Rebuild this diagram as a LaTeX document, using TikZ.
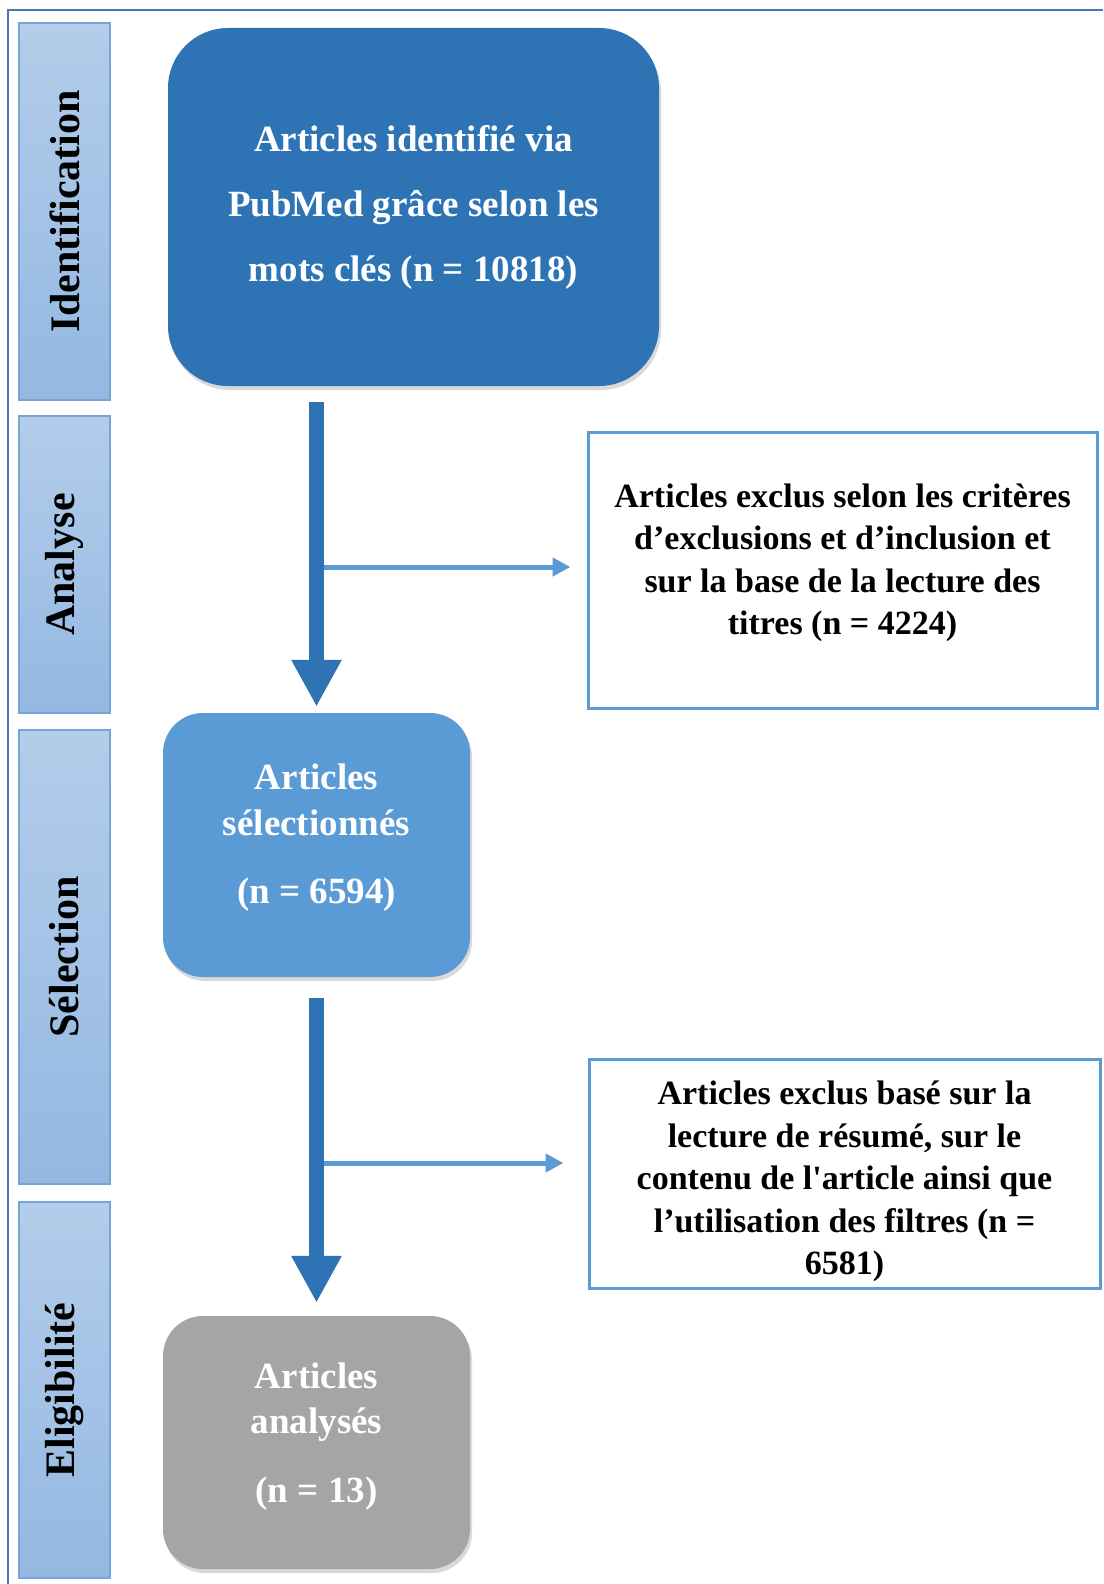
\documentclass[tikz,border=0pt]{standalone}
\usepackage{fontspec}
\setmainfont{Liberation Serif}
\newfontfamily\rawserif{Liberation Serif}[Ligatures=TeXOff]
\usetikzlibrary{arrows.meta,shadows,calc}
\definecolor{darkblue}{HTML}{2E74B5}
\definecolor{midblue}{HTML}{5B9BD5}
\definecolor{boxgray}{HTML}{A5A5A5}
\definecolor{sidetop}{HTML}{B3CDEA}
\definecolor{sidebot}{HTML}{94B8E2}
\definecolor{sideedge}{HTML}{76A5DA}
\definecolor{frameblue}{HTML}{4A78AE}
\tikzset{
  sidebox/.style={draw=sideedge, line width=1.5pt, top color=sidetop, bottom color=sidebot,
    minimum width=91pt, inner sep=0pt},
  sidelabel/.style={rotate=90, font=\fontsize{42}{48}\selectfont\bfseries, text=black},
  roundbox/.style={inner sep=0pt, align=center, text=white,
    drop shadow={shadow xshift=2pt, shadow yshift=-4pt, opacity=0.15, fill=black}},
  exclbox/.style={draw=midblue, line width=3pt, fill=white, inner sep=0pt},
  excltext/.style={inner sep=0pt, align=center,
    font=\fontsize{34}{42.5}\selectfont\bfseries, text=black},
  mainarrow/.style={draw=darkblue, line width=15pt, -{Triangle[length=47pt,width=47pt]}},
  brancharrow/.style={draw=midblue, line width=5pt, -{Triangle[length=18pt,width=18pt]}}
}
\begin{document}
\begin{tikzpicture}[x=1pt,y=-1pt]
\useasboundingbox (0,0) rectangle (1103,1584);
\fill[white] (0,0) rectangle (1103,1584);
% outer frame
\draw[frameblue, line width=2.5pt] (1103,10) -- (8,10) -- (8,1584);

% side boxes
\node[sidebox, minimum height=377pt] (s1) at (64.5,211.5) {};
\node[sidelabel] (l1) at (s1.center) {Identification};
\node[sidebox, minimum height=297pt] (s2) at (64.5,564.5) {};
\node[sidelabel] (l2) at (s2.center) {Analyse};
\node[sidebox, minimum height=454pt] (s3) at (64.5,957) {};
\node[sidelabel] (l3) at (s3.center) {Sélection};
\node[sidebox, minimum height=376pt] (s4) at (64.5,1390) {};
\node[sidelabel] (l4) at (s4.center) {Eligibilité};

% main boxes
\node[roundbox, fill=darkblue, rounded corners=60pt, minimum width=491pt, minimum height=358pt,
  font=\fontsize{37}{65}\selectfont\bfseries] (b1) at (413.5,207)
  {Articles identifié via\\PubMed grâce selon les\\mots clés (n = 10818)};
\node[roundbox, fill=midblue, rounded corners=40pt, minimum width=307pt, minimum height=264pt,
  font=\fontsize{37}{46}\selectfont\bfseries, text depth=22pt] (b2) at (316.5,845)
  {Articles\\sélectionnés\\[22pt](n = 6594)};
\node[roundbox, fill=boxgray, rounded corners=40pt, minimum width=307pt, minimum height=253pt,
  font=\fontsize{37}{45}\selectfont\bfseries, text depth=20pt] (b3) at (316.5,1442.5)
  {Articles\\analysés\\[24pt](n = 13)};

% exclusion boxes
\node[exclbox, minimum width=509pt, minimum height=276pt] (e1) at (842.5,570) {};
\node[excltext] (e1t) at (842.5,563)
  {Articles exclus selon les critères\\d’exclusions et d’inclusion et\\sur la base de la lecture des\\titres (n = 4224)};
\node[exclbox, minimum width=511pt, minimum height=229pt] (e2) at (844.5,1173.5) {};
\node[excltext] (e2t) at (844.5,1181.5)
  {Articles exclus basé sur la\\lecture de résumé, sur le\\contenu de l{\rawserif\bfseries'}article ainsi que\\l’utilisation des filtres (n =\\6581)};

% branch arrows (drawn first so the main shafts cover their start)
\coordinate (c1) at (318,567);
\coordinate (c2) at (318,1163);
\draw[brancharrow, shorten >=16pt] (c1) -- (e1.west |- c1);
\draw[brancharrow, shorten >=24pt] (c2) -- (e2.west |- c2);

% main arrows
\draw[mainarrow, shorten <=16pt, shorten >=6pt] (b2.north |- b1.south) -- (b2.north);
\draw[mainarrow, shorten <=21pt, shorten >=13pt] (b2.south) -- (b3.north);
\end{tikzpicture}
\end{document}
